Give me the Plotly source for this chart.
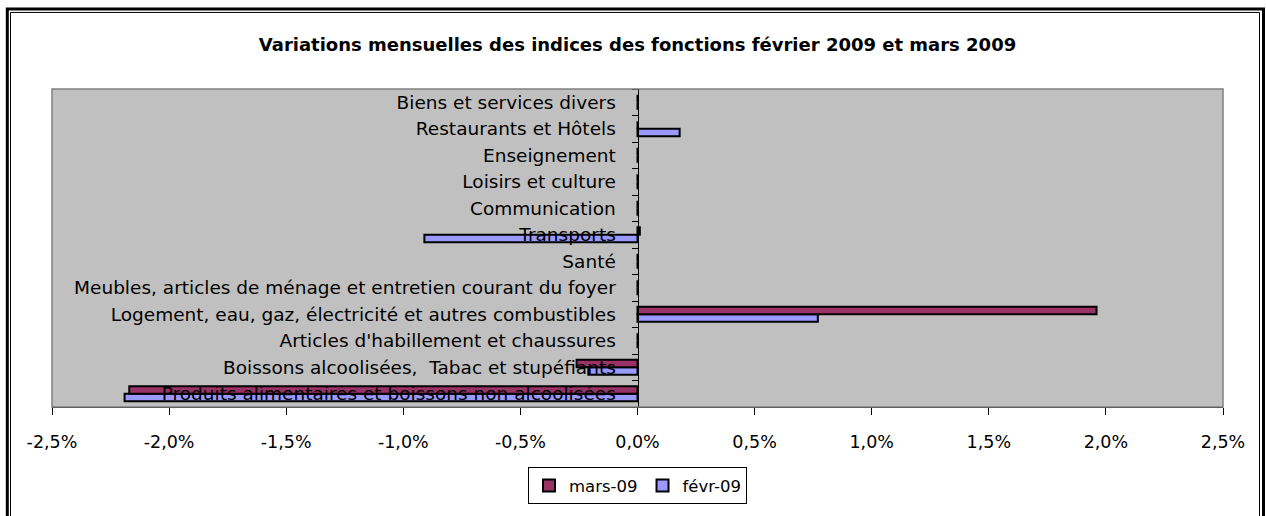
import plotly.graph_objects as go

# ---------------- data ----------------
categories = [
    "Produits alimentaires et boissons non alcoolisées",
    "Boissons alcoolisées,\u00a0 Tabac et stupéfiants",
    "Articles d'habillement et chaussures",
    "Logement, eau, gaz, électricité et autres combustibles",
    "Meubles, articles de ménage et entretien courant du foyer",
    "Santé",
    "Transports",
    "Communication",
    "Loisirs et culture",
    "Enseignement",
    "Restaurants et Hôtels",
    "Biens et services divers",
]
mars_09 = [-2.17, -0.26, 0, 1.96, 0, 0, 0.01, 0, 0, 0, 0, 0]
fevr_09 = [-2.19, -0.21, 0, 0.77, 0, 0, -0.91, 0, 0, 0, 0.18, 0]
series_names = ["mars-09", "févr-09"]
x_tickvals = [-2.5, -2.0, -1.5, -1.0, -0.5, 0.0, 0.5, 1.0, 1.5, 2.0, 2.5]
x_ticktext = ["-2,5%", "-2,0%", "-1,5%", "-1,0%", "-0,5%", "0,0%",
              "0,5%", "1,0%", "1,5%", "2,0%", "2,5%"]
title_text = "Variations mensuelles des indices des fonctions février 2009 et mars 2009"

# ---------------- layout geometry ----------------
W, H = 1266, 516
L, R, T, B = 52, 43, 89, 105
PW, PH = W - L - R, H - T - B


def px(x):
    return (x - L) / PW


def py(y):
    return (H - B - y) / PH


FONT = "DejaVu Sans"

fig = go.Figure()
fig.add_trace(go.Bar(
    y=categories, x=fevr_09, orientation="h", name=series_names[1],
    marker=dict(color="#9999FF", line=dict(color="black", width=2)),
))
fig.add_trace(go.Bar(
    y=categories, x=mars_09, orientation="h", name=series_names[0],
    marker=dict(color="#993366", line=dict(color="black", width=2)),
))

shapes = [
    # plot area border
    dict(type="rect", xref="paper", yref="paper", x0=0, x1=1, y0=0, y1=1,
         line=dict(color="#808080", width=1.5), layer="above"),
    # outer double frame
    dict(type="rect", xref="paper", yref="paper",
         x0=px(7.3), x1=px(1263.5), y0=py(540), y1=py(8),
         line=dict(color="black", width=3)),
    dict(type="rect", xref="paper", yref="paper",
         x0=px(10.5), x1=px(1259.5), y0=py(540), y1=py(11.5),
         line=dict(color="black", width=1)),
]

fig.update_layout(
    width=W, height=H,
    margin=dict(l=L, r=R, t=T, b=B, pad=0),
    paper_bgcolor="white",
    plot_bgcolor="#C0C0C0",
    barmode="group",
    bargap=0.43,
    bargroupgap=0,
    font=dict(family=FONT, color="black", size=17),
    title=dict(text="<b>" + title_text + "</b>", x=0.5, xref="paper",
               xanchor="center", y=1 - 45 / H, yref="container",
               yanchor="middle",
               font=dict(family=FONT, size=18, color="black")),
    legend=dict(orientation="h", x=0.5, xanchor="center",
                y=py(472), yanchor="top", traceorder="reversed",
                bgcolor="white", bordercolor="black", borderwidth=1,
                font=dict(family=FONT, size=16.5, color="black")),
    showlegend=True,
    shapes=shapes,
    xaxis=dict(range=[-2.5, 2.5], tickvals=x_tickvals, ticktext=x_ticktext,
               showgrid=False, zeroline=False, showline=True,
               linecolor="black", linewidth=1, ticks="outside", ticklen=7,
               tickcolor="black", tickwidth=1, ticklabelstandoff=12,
               tickfont=dict(family=FONT, size=17.5, color="black"),
               fixedrange=True),
    yaxis=dict(type="category", categoryorder="array",
               categoryarray=categories, range=[-0.5, 11.5],
               anchor="free", position=0.5, side="left",
               showgrid=False, zeroline=False, showline=True,
               linecolor="black", linewidth=1.5, ticks="outside",
               ticklen=6, tickcolor="black", tickwidth=1,
               tickson="boundaries", ticklabelstandoff=18,
               tickfont=dict(family=FONT, size=18.5, color="black"),
               fixedrange=True),
)

fig.write_html(
    "out.html",
    config={"displayModeBar": False, "staticPlot": True},
    post_script="document.body.style.margin='0';"
                "document.body.style.overflow='hidden';",
)
